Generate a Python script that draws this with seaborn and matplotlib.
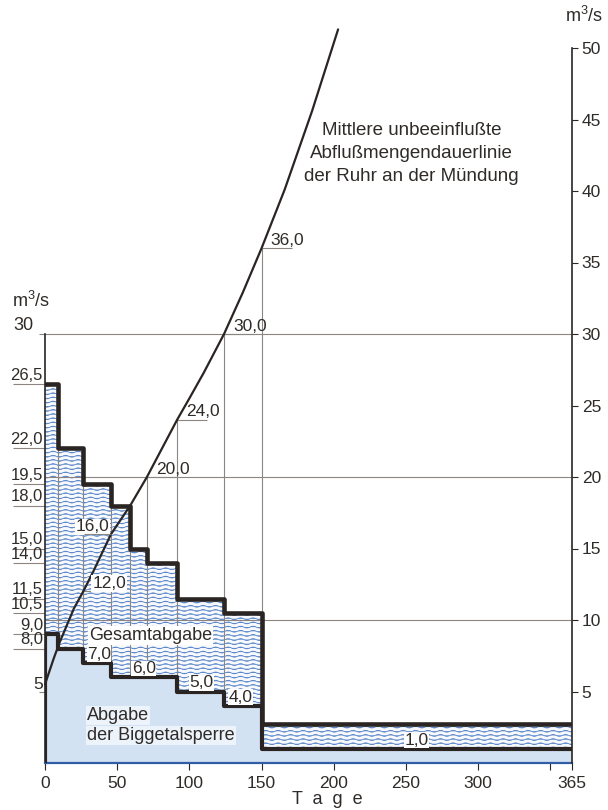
import warnings
warnings.filterwarnings('ignore')
import numpy as np
import pandas as pd
import matplotlib
matplotlib.use('Agg')
import matplotlib.pyplot as plt
from matplotlib import hatch as mhatch
from matplotlib.path import Path
import seaborn as sns

# ---------------- data ----------------
step_days = [0, 9, 26.5, 45.7, 59, 70.6, 91.5, 124, 150, 365]
gesamt = [26.5, 22.0, 19.5, 18.0, 15.0, 14.0, 11.5, 10.5, 2.7, 2.7]
bigge = [9.0, 8.0, 7.0, 6.0, 6.0, 6.0, 5.0, 4.0, 1.0, 1.0]

curve_days = [0, 1, 3, 6, 10, 15, 20, 26.5, 33, 45.7, 59, 70.6, 80, 91.5,
              100, 110, 124, 137, 150, 166, 185, 203]
curve_vals = [5.5, 5.8, 6.4, 7.3, 8.4, 9.6, 10.8, 12.0, 13.3, 16.0, 18.0, 20.0,
              21.8, 24.0, 25.5, 27.3, 30.0, 32.9, 36.0, 40.1, 45.6, 51.3]

curve_label_days = [26.5, 45.7, 70.6, 91.5, 124, 150]
curve_label_vals = [12.0, 16.0, 20.0, 24.0, 30.0, 36.0]
curve_label_text = ['12,0', '16,0', '20,0', '24,0', '30,0', '36,0']

bigge_label_days = [29, 60, 100, 127, 249]
bigge_label_vals = [7.0, 6.0, 5.0, 4.0, 1.0]
bigge_label_text = ['7,0', '6,0', '5,0', '4,0', '1,0']

left_ticks = [26.5, 22.0, 19.5, 18.0, 15.0, 14.0, 11.5, 10.5, 9.0, 8.0]
left_labels = ['26,5', '22,0', '19,5', '18,0', '15,0', '14,0', '11,5', '10,5', '9,0', '8,0']
left_minor = [5, 30]
right_ticks = [5, 10, 15, 20, 25, 30, 35, 40, 45, 50]
x_ticks = [0, 50, 100, 150, 200, 250, 300, 350, 365]
x_labels = ['0', '50', '100', '150', '200', '250', '300', '', '365']
grid_levels = [10, 20, 30]

# ---------------- style ----------------
INK = '#2a2522'
GRID = '#8c8580'
TXT = '#2f2b28'
HATCH = '#4f7fc6'
LIGHT = '#d3e2f3'

sns.set_theme(style='ticks')
plt.rcParams['font.family'] = ['Liberation Sans', 'DejaVu Sans']
plt.rcParams['mathtext.default'] = 'regular'
plt.rcParams['hatch.linewidth'] = 0.55
plt.rcParams['hatch.color'] = HATCH
plt.rcParams['text.color'] = TXT
plt.rcParams['xtick.color'] = INK
plt.rcParams['ytick.color'] = INK
plt.rcParams['xtick.labelcolor'] = TXT
plt.rcParams['ytick.labelcolor'] = TXT


class WavyHatch(mhatch.HatchPatternBase):
    """wavy horizontal lines, selected with '~'"""
    def __init__(self, hatch, density):
        self.num_lines = int(hatch.count('~') * density)
        self.n_seg = 64
        self.num_vertices = self.num_lines * (self.n_seg + 1)

    def set_vertices_and_codes(self, vertices, codes):
        n = self.n_seg + 1
        t = np.linspace(0.0, 1.0, n)
        steps, step = np.linspace(0.0, 1.0, self.num_lines, False, retstep=True)
        steps = steps + step / 2
        wave = 0.22 * step * np.sin(2 * np.pi * 8 * t)
        for i, y0 in enumerate(steps):
            vertices[i * n:(i + 1) * n, 0] = t
            vertices[i * n:(i + 1) * n, 1] = y0 + wave
            codes[i * n] = Path.MOVETO
            codes[i * n + 1:(i + 1) * n] = Path.LINETO


mhatch._hatch_types.append(WavyHatch)

fig = plt.figure(figsize=(6.08, 8.10), dpi=100)
ax = fig.add_axes([45 / 608, 47 / 810, 527 / 608, 715 / 810])
ax.set_xlim(0, 365)
ax.set_ylim(0, 50)

# fills
ax.fill_between(step_days, 0, bigge, step='post', facecolor=LIGHT, lw=0, zorder=2)
ax.fill_between(step_days, bigge, gesamt, step='post', facecolor='#f7f9fd',
                edgecolor=HATCH, hatch='~~~~', lw=0, zorder=1)

# thin grid lines
for g in grid_levels:
    ax.axhline(g, color=GRID, lw=0.8, zorder=1.5)
for i in range(1, len(step_days) - 1):
    d = step_days[i]
    top = max(gesamt[i - 1], float(np.interp(d, curve_days, curve_vals)))
    ax.vlines(d, 0, top, color=GRID, lw=0.8, zorder=1.5)

# step outlines
df_steps = pd.DataFrame({'Tage': step_days, 'Gesamtabgabe': gesamt})
sns.lineplot(data=df_steps, x='Tage', y='Gesamtabgabe', drawstyle='steps-post',
             color=INK, lw=3.3, ax=ax, zorder=5, estimator=None)
df_bigge = pd.DataFrame({'Tage': [0] + step_days, 'Abgabe': [0] + bigge})
sns.lineplot(data=df_bigge, x='Tage', y='Abgabe', drawstyle='steps-post',
             color=INK, lw=3.0, ax=ax, zorder=5, estimator=None, sort=False)

# duration curve
df_curve = pd.DataFrame({'Tage': curve_days, 'Abfluss': curve_vals})
sns.lineplot(data=df_curve, x='Tage', y='Abfluss', color=INK, lw=1.6, ax=ax,
             zorder=6, clip_on=False, estimator=None, sort=False)

# curve labels
box = dict(facecolor='white', edgecolor='none', pad=0.6)
for d, v, t in zip(curve_label_days, curve_label_vals, curve_label_text):
    if t == '16,0':
        ax.annotate(t, xy=(d, v), xytext=(-1, 2), textcoords='offset points',
                    ha='right', va='baseline', fontsize=12.5, zorder=7, bbox=box)
        ax.hlines(v, d - 19, d, color=GRID, lw=0.8, zorder=7)
    else:
        ax.annotate(t, xy=(d, v), xytext=(6.5, 2.5), textcoords='offset points',
                    ha='left', va='baseline', fontsize=12.5, zorder=7,
                    bbox=box if v < 20 else None)
        ax.hlines(v, d, d + 21, color=GRID, lw=0.8, zorder=1.5)

# bigge labels
for d, v, t in zip(bigge_label_days, bigge_label_vals, bigge_label_text):
    ax.annotate(t, xy=(d, v), xytext=(0, 3), textcoords='offset points',
                ha='left', va='baseline', fontsize=12.5, zorder=7,
                bbox=dict(facecolor='white', edgecolor='none', pad=0.3))

ax.text(30.5, 8.6, 'Gesamtabgabe', ha='left', va='baseline', fontsize=13,
        zorder=7, bbox=dict(facecolor='white', edgecolor='none', pad=0.8))
ax.text(29, 3.0, 'Abgabe', ha='left', va='baseline', fontsize=13, zorder=7,
        bbox=dict(facecolor='white', edgecolor='none', alpha=0.6, pad=0.8))
ax.text(29, 1.6, 'der Biggetalsperre', ha='left', va='baseline', fontsize=13,
        zorder=7, bbox=dict(facecolor='white', edgecolor='none', alpha=0.6, pad=0.8))
ax.text(254, 42.6, 'Mittlere unbeeinflußte\nAbflußmengendauerlinie\nder Ruhr an der Mündung',
        ha='center', va='center', multialignment='center', fontsize=13.5,
        linespacing=1.45, zorder=7)

# axes / spines
for s in ['top', 'right']:
    ax.spines[s].set_visible(False)
ax.spines['left'].set_bounds(0, 30)
ax.spines['left'].set_color(INK)
ax.spines['left'].set_linewidth(1.2)
ax.spines['bottom'].set_color('#2f5da6')
ax.spines['bottom'].set_linewidth(1.6)
ax.set_xticks(x_ticks, x_labels)
ax.tick_params(axis='x', direction='out', length=5, width=0.8, labelsize=12.5, pad=4)
ax.set_yticks(left_ticks)
ax.set_yticks(left_minor, minor=True)
ax.tick_params(axis='y', which='major', direction='out', length=23, width=0.8,
               color=GRID, labelleft=False)
ax.tick_params(axis='y', which='minor', direction='out', length=4, width=0.8,
               color=GRID, labelleft=False)
ax.set_xlabel('')
ax.set_ylabel('')

for v, t in zip(left_ticks, left_labels):
    ax.annotate(t, xy=(0, v), xycoords=('axes fraction', 'data'), xytext=(-1.5, 3),
                textcoords='offset points', ha='right', va='baseline', fontsize=12)
ax.annotate('5', xy=(0, 5), xycoords=('axes fraction', 'data'), xytext=(-1.5, 1.5),
            textcoords='offset points', ha='right', va='baseline', fontsize=12.5)
ax.annotate('30', xy=(0, 30), xycoords=('axes fraction', 'data'), xytext=(-8.5, 3),
            textcoords='offset points', ha='right', va='baseline', fontsize=13)

ax2 = ax.twinx()
ax2.set_ylim(0, 50)
ax2.set_yticks(right_ticks)
for s in ['top', 'left', 'bottom']:
    ax2.spines[s].set_visible(False)
ax2.spines['right'].set_color(INK)
ax2.spines['right'].set_linewidth(1.2)
ax2.tick_params(axis='y', direction='out', length=4, width=0.8, labelsize=12.5, pad=3)

fig.text(12 / 608, 1 - 301 / 810, 'm$^{3}$/s', ha='left', va='center', fontsize=13)
fig.text(584 / 608, 1 - 16 / 810, 'm$^{3}$/s', ha='center', va='center', fontsize=13)
fig.text(327 / 608, 1 - 800 / 810, 'T  a  g  e', ha='center', va='center', fontsize=13)

fig.savefig('out.png', dpi=100)
